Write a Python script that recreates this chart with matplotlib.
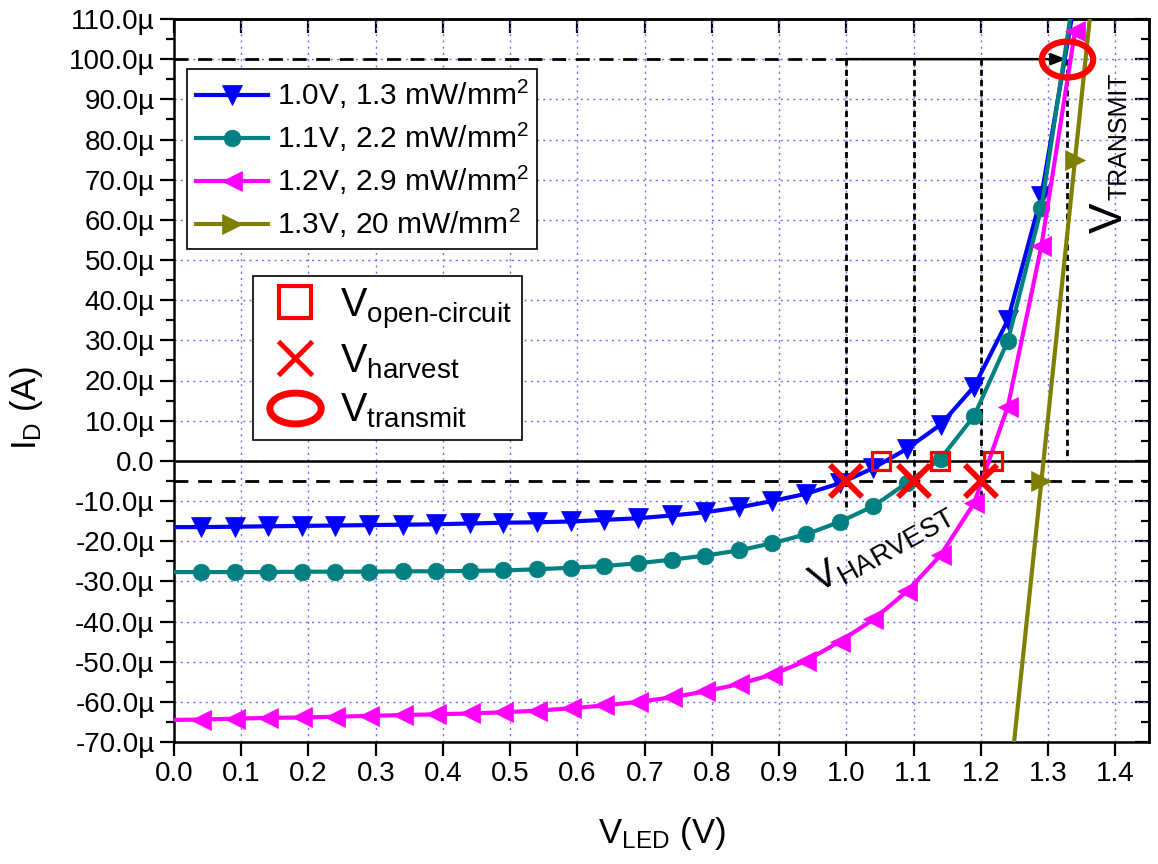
import matplotlib
matplotlib.use("Agg")
import matplotlib.pyplot as plt
from matplotlib.path import Path
from matplotlib.transforms import Affine2D
from matplotlib.lines import Line2D
from matplotlib.ticker import MultipleLocator, FuncFormatter

plt.rcParams['font.family'] = ['Liberation Sans', 'DejaVu Sans']
plt.rcParams['mathtext.fontset'] = 'custom'
plt.rcParams['mathtext.rm'] = 'Liberation Sans'
plt.rcParams['mathtext.it'] = 'Liberation Sans:italic'
plt.rcParams['mathtext.bf'] = 'Liberation Sans:bold'
plt.rcParams['mathtext.default'] = 'regular'

# LED voltage sweep (V)
v_led = [0.00, 0.04, 0.09, 0.14, 0.19, 0.24, 0.29, 0.34, 0.39, 0.44, 0.49,
         0.54, 0.59, 0.64, 0.69, 0.74, 0.79, 0.84, 0.89, 0.94, 0.99,
         1.04, 1.09, 1.14, 1.19, 1.24, 1.29, 1.34]

# Diode current (uA) under each illumination condition
i_1p3mw = [-16.5, -16.5, -16.4, -16.3, -16.2, -16.1, -16.0, -15.9, -15.8, -15.6, -15.4,
           -15.3, -15.1, -14.7, -14.3, -13.6, -12.8, -11.6, -10.0, -8.2, -5.6,
           -1.8, 3.0, 9.0, 18.5, 35.0, 66.0, 115.0]
i_2p2mw = [-27.7, -27.7, -27.7, -27.7, -27.6, -27.6, -27.6, -27.5, -27.5, -27.4, -27.3,
           -27.0, -26.6, -26.2, -25.5, -24.6, -23.6, -22.3, -20.5, -18.3, -15.2,
           -11.3, -5.5, 0.5, 11.2, 29.8, 63.0, 118.0]
i_2p9mw = [-64.5, -64.4, -64.2, -64.0, -63.9, -63.7, -63.5, -63.3, -63.1, -62.9, -62.6,
           -62.2, -61.6, -60.9, -60.0, -58.9, -57.4, -55.6, -53.2, -49.8, -45.0,
           -39.5, -32.5, -23.5, -10.5, 13.5, 53.5, 107.0]
v_20mw = [1.19, 1.24, 1.29, 1.34, 1.39]
i_20mw = [-165.0, -85.0, -5.0, 75.0, 155.0]

labels = ['1.0V, 1.3 mW/mm$^2$', '1.1V, 2.2 mW/mm$^2$',
          '1.2V, 2.9 mW/mm$^2$', '1.3V, 20 mW/mm$^2$']

# Operating points
v_open = [1.051, 1.139, 1.218]
i_open = [0.0, 0.0, 0.0]
v_harvest = [1.0, 1.1, 1.2]
i_harvest = [-5.0, -5.0, -5.0]
v_transmit = [1.328]
i_transmit = [100.0]

fig = plt.figure(figsize=(11.58, 8.64), dpi=100)
ax = fig.add_axes([174 / 1158, 1 - 742 / 864, 975 / 1158, 723 / 864])
ax.set_xlim(0, 1.45)
ax.set_ylim(-70, 110)

# grid
ax.grid(True, which='major', color='#6f6fff', linestyle=(0, (1.5, 3)), linewidth=1.0)
ax.set_axisbelow(True)

# reference lines
ax.axhline(0, color='k', lw=1.8, zorder=2)
ax.axhline(-5, color='k', lw=2.0, ls=(0, (5, 3.5)), zorder=2)
ax.plot([0, 1.0], [100, 100], color='k', lw=2.0, ls=(0, (5, 3.5)), zorder=2)
ax.annotate('', xy=(1.327, 100), xytext=(1.0, 100),
            arrowprops=dict(arrowstyle='-|>,head_length=0.9,head_width=0.35',
                            color='k', lw=1.8, shrinkA=0, shrinkB=0), zorder=3)
for xv in v_harvest:
    ax.plot([xv, xv], [100, -11.5], color='k', lw=2.0, ls=(0, (2.2, 1.5)), zorder=2)
ax.plot([v_transmit[0], v_transmit[0]], [100, 0], color='k', lw=2.0,
        ls=(0, (2.2, 1.5)), zorder=2)

# I-V curves
lw = 3.0
ax.plot(v_led, i_1p3mw, color='#0000ff', lw=lw, marker='v', ms=14, mew=0.5,
        markevery=slice(1, None), label=labels[0], zorder=4)
ax.plot(v_led, i_2p2mw, color='#008080', lw=lw, marker='o', ms=12, mew=0.5,
        markevery=slice(1, None), label=labels[1], zorder=4)
ax.plot(v_led, i_2p9mw, color='#ff00ff', lw=lw, marker='<', ms=14, mew=0.5,
        markevery=slice(1, None), label=labels[2], zorder=4)
ax.plot(v_20mw, i_20mw, color='#808000', lw=lw, marker='>', ms=14, mew=0.5,
        label=labels[3], zorder=4)

# operating-point markers
ellipse_plot = Path.unit_circle().transformed(Affine2D().scale(1.0, 0.7))
ellipse_leg = Path.unit_circle().transformed(Affine2D().scale(1.0, 0.6))
ax.plot(v_open, i_open, ls='none', marker='s', ms=13, mfc='none', mec='red',
        mew=2.3, zorder=6)
ax.plot(v_harvest, i_harvest, ls='none', marker='x', ms=23, mec='red', mew=4.2, zorder=6)
ax.plot(v_transmit, i_transmit, ls='none', marker=ellipse_plot, ms=37, mfc='none',
        mec='red', mew=4.5, zorder=6)

# ticks
ax.xaxis.set_major_locator(MultipleLocator(0.1))
ax.yaxis.set_major_locator(MultipleLocator(10))
ax.yaxis.set_minor_locator(MultipleLocator(5))
ax.xaxis.set_major_formatter(FuncFormatter(lambda v, p: f'{v:.1f}'))
ax.yaxis.set_major_formatter(
    FuncFormatter(lambda v, p: '0.0' if abs(v) < 1e-9 else f'{v:.1f}\u00b5'))
ax.tick_params(axis='both', which='major', direction='out', length=10, width=1.6,
               labelsize=20, pad=4)
ax.tick_params(axis='y', which='minor', direction='out', length=6, width=1.6)
for s in ax.spines.values():
    s.set_linewidth(1.8)

top = ax.secondary_xaxis('top')
top.xaxis.set_major_locator(MultipleLocator(0.1))
top.tick_params(axis='x', which='major', direction='in', length=10, width=1.6,
                labeltop=False)
top.spines['top'].set_linewidth(1.8)
right = ax.secondary_yaxis('right')
right.yaxis.set_major_locator(MultipleLocator(10))
right.yaxis.set_minor_locator(MultipleLocator(5))
right.tick_params(axis='y', which='major', direction='in', length=10, width=1.6,
                  labelright=False)
right.tick_params(axis='y', which='minor', direction='in', length=6, width=1.6)
right.spines['right'].set_linewidth(1.8)

ax.set_xlabel('V$_{LED}$ (V)', fontsize=25, labelpad=20)
ax.set_ylabel('I$_D$ (A)', fontsize=25)
ax.yaxis.set_label_coords(-0.132, 0.462)

# annotations
ax.text(0.958, -33.2, 'V$_{HARVEST}$', fontsize=28, rotation=29,
        rotation_mode='anchor', ha='left', va='baseline', zorder=5)
ax.text(1.410, 56.7, 'V', fontsize=33, rotation=90, rotation_mode='anchor',
        ha='left', va='baseline', zorder=5)
ax.text(1.417, 64.9, 'TRANSMIT', fontsize=18, rotation=90, rotation_mode='anchor',
        ha='left', va='baseline', zorder=5)

# legends
leg1 = ax.legend(loc='upper left', bbox_to_anchor=(0.0133, 0.931), borderaxespad=0,
                 fontsize=21.5, handlelength=2.4, handletextpad=0.3, labelspacing=0.33,
                 borderpad=0.3, fancybox=False, edgecolor='k', framealpha=1)
leg1.get_frame().set_linewidth(1.2)
ax.add_artist(leg1)

h_open = Line2D([], [], ls='none', marker='s', ms=23, mfc='none', mec='red', mew=3)
h_harv = Line2D([], [], ls='none', marker='x', ms=25, mec='red', mew=3.5)
h_trans = Line2D([], [], ls='none', marker=ellipse_leg, ms=37, mfc='none', mec='red',
                 mew=5)
leg2 = ax.legend([h_open, h_harv, h_trans],
                 ['V$_{\\text{open-circuit}}$', 'V$_{harvest}$', 'V$_{transmit}$'],
                 loc='upper left', bbox_to_anchor=(0.081, 0.6445), borderaxespad=0,
                 fontsize=28.5, handlelength=1.6, handletextpad=0.35, labelspacing=0.28,
                 borderpad=0.25, fancybox=False, edgecolor='k', framealpha=1)
leg2.get_frame().set_linewidth(1.2)

fig.savefig('out.png', dpi=100)
